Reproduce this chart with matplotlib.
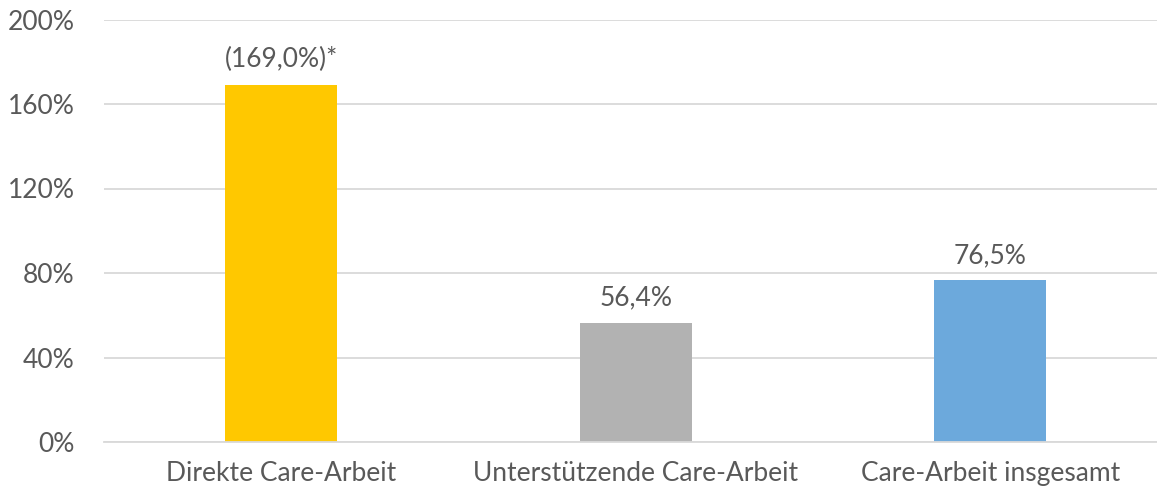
import matplotlib.pyplot as plt
from matplotlib.ticker import FuncFormatter

categories = ["Direkte Care-Arbeit", "Unterstützende Care-Arbeit", "Care-Arbeit insgesamt"]
values = [169.0, 56.4, 76.5]
labels = ["(169,0%)*", "56,4%", "76,5%"]
colors = ["#FFC800", "#B2B2B2", "#6CA9DC"]
yticks = [0, 40, 80, 120, 160, 200]

plt.rcParams['font.family'] = ['Lato', 'DejaVu Sans']
text_color = "#595959"
fs = 19

fig = plt.figure(figsize=(11.57, 4.96), dpi=100)
ax = fig.add_axes([104 / 1157, 54 / 496, 1063.5 / 1157, 422.5 / 496])

x = range(len(categories))
bars = ax.bar(x, values, width=0.316, color=colors, zorder=2)

for b, lab in zip(bars, labels):
    ax.annotate(lab, (b.get_x() + b.get_width() / 2, b.get_height()),
                xytext=(0, 9), textcoords="offset points",
                ha="center", va="bottom", fontsize=fs, color=text_color)

ax.set_xlim(-0.5, 2.5)
ax.set_ylim(0, 200)
ax.set_yticks(yticks)
ax.yaxis.set_major_formatter(FuncFormatter(lambda v, p: f"{v:.0f}%"))
ax.set_xticks(list(x))
ax.set_xticklabels(categories)

ax.grid(axis="y", color="#D9D9D9", linewidth=1.3, zorder=0)
for s in ["top", "right", "left"]:
    ax.spines[s].set_visible(False)
ax.spines["bottom"].set_color("#D9D9D9")
ax.spines["bottom"].set_linewidth(1.3)

ax.tick_params(axis="both", length=0, labelsize=fs, labelcolor=text_color)
ax.tick_params(axis="y", pad=21)
ax.tick_params(axis="x", pad=14)

fig.savefig("out.png", dpi=100)
